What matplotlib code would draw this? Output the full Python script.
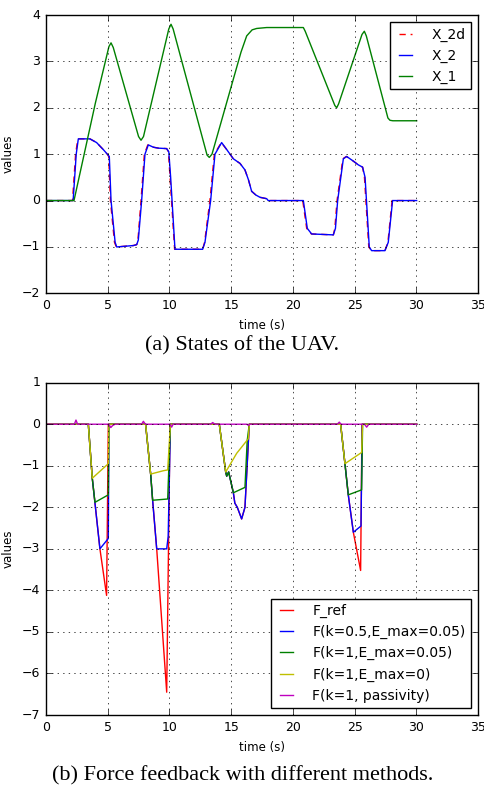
import numpy as np
import matplotlib.pyplot as plt

plt.style.use('classic')
plt.rcParams['figure.facecolor'] = 'white'
plt.rcParams['savefig.facecolor'] = 'white'
plt.rcParams['font.family'] = ['DejaVu Sans']

# ---- (a) states of the UAV ----
t_x1 = [0, 2.27, 4.0, 5.1, 5.27, 5.45, 7.5, 7.7, 7.9, 9.95, 10.13, 10.3, 13.05, 13.23, 13.45,
        15.8, 16.26, 16.7, 17.07, 17.88, 20.85, 21.0, 23.4, 23.55, 23.7, 25.6, 25.79, 25.95, 27.7, 27.87, 28.1, 30.03]
x1 = [0, 0, 2.1, 3.32, 3.4, 3.3, 1.38, 1.3, 1.38, 3.7, 3.8, 3.7, 0.98, 0.93, 1.0,
      3.2, 3.55, 3.68, 3.71, 3.73, 3.73, 3.65, 2.05, 2.0, 2.08, 3.58, 3.65, 3.55, 1.78, 1.73, 1.72, 1.72]

t_x2 = [0, 2.2, 2.45, 2.62, 3.56, 4.1, 4.64, 4.97, 5.13, 5.27, 5.6, 5.73, 7.08, 7.35, 7.48, 7.75,
        8.02, 8.29, 8.7, 9.1, 9.78, 9.95, 10.1, 10.45, 12.69, 12.88, 13.34, 13.69, 14.23, 14.64,
        15.18, 15.72, 16.12, 16.4, 16.66, 17.0, 17.34, 17.88, 18.0, 20.85, 21.17, 21.52, 23.28,
        23.45, 23.63, 24.09, 24.36, 24.9, 25.3, 25.65, 25.85, 26.19, 26.38, 27.46, 27.73, 28.08, 30.03]
x2 = [0, 0, 1.0, 1.33, 1.33, 1.25, 1.1, 1.0, 0.95, 0.0, -0.9, -1.0, -0.97, -0.95, -0.85, 0.0,
      1.0, 1.2, 1.15, 1.13, 1.12, 1.05, 0.5, -1.05, -1.05, -0.9, 0.0, 1.0, 1.25, 1.1,
      0.9, 0.8, 0.66, 0.45, 0.2, 0.12, 0.07, 0.04, 0.0, 0.0, -0.6, -0.72, -0.74,
      -0.6, 0.0, 0.9, 0.95, 0.85, 0.77, 0.72, 0.5, -1.0, -1.08, -1.08, -0.9, 0.0, 0.0]

t_x2d = [0, 2.15, 2.4, 2.58, 3.56, 4.1, 4.64, 4.97, 5.08, 5.22, 5.55, 5.7, 7.08, 7.35, 7.45, 7.7,
         7.97, 8.25, 8.7, 9.1, 9.78, 9.92, 10.05, 10.42, 12.69, 12.85, 13.28, 13.64, 14.2, 14.64,
         15.18, 15.72, 16.12, 16.4, 16.66, 17.0, 17.34, 17.88, 18.0, 20.8, 21.12, 21.5, 23.28,
         23.4, 23.58, 24.05, 24.33, 24.9, 25.3, 25.65, 25.8, 26.15, 26.35, 27.46, 27.7, 28.04, 30.03]
x2d = x2

# ---- (b) force feedback ----
t_fref = [0, 3.43, 3.75, 3.97, 4.37, 4.91, 5.05, 8.07, 8.48, 8.64, 8.97, 9.78, 10.05,
          14.04, 14.56, 14.64, 14.8, 15.18, 15.3, 15.5, 15.85, 16.12, 16.47,
          23.87, 24.22, 24.49, 24.9, 25.49, 25.6, 30.03]
f_ref = [0, 0, -1.3, -1.9, -3.0, -4.12, 0, 0, -1.2, -1.83, -3.0, -6.45, 0,
         0, -1.15, -1.25, -1.15, -1.65, -1.9, -2.0, -2.28, -2.0, 0,
         0, -0.95, -1.7, -2.6, -3.52, 0, 0]

t_f05 = [0, 3.43, 3.75, 3.97, 4.37, 5.05, 5.1, 8.07, 8.48, 8.64, 8.97, 9.78, 9.9, 10.08,
         14.04, 14.56, 14.64, 14.8, 15.18, 15.3, 15.5, 15.85, 16.12, 16.47,
         23.87, 24.22, 24.49, 24.9, 25.52, 25.62, 30.03]
f_05 = [0, 0, -1.3, -1.9, -3.0, -2.75, 0, 0, -1.2, -1.83, -3.0, -3.0, -2.7, 0,
        0, -1.15, -1.25, -1.15, -1.65, -1.9, -2.0, -2.28, -2.0, 0,
        0, -0.95, -1.7, -2.6, -2.45, 0, 0]

t_f1 = [0, 3.43, 3.75, 3.97, 5.05, 5.1, 8.07, 8.48, 8.64, 9.86, 10.08,
        14.04, 14.56, 14.64, 14.8, 15.18, 16.12, 16.3, 16.47,
        23.87, 24.22, 24.49, 25.57, 25.65, 30.03]
f_1 = [0, 0, -1.3, -1.88, -1.7, 0, 0, -1.2, -1.83, -1.8, 0,
       0, -1.15, -1.25, -1.15, -1.65, -1.52, -0.4, 0,
       0, -0.95, -1.7, -1.58, 0, 0]

t_f1e0 = [0, 3.43, 3.75, 5.05, 5.1, 8.07, 8.48, 9.5, 9.86, 10.08,
          14.04, 14.56, 15.45, 16.39, 16.47, 23.87, 24.22, 25.57, 25.65, 30.03]
f_1e0 = [0, 0, -1.3, -0.95, 0, 0, -1.2, -1.12, -1.1, 0,
         0, -1.15, -0.7, -0.35, 0, 0, -0.95, -0.68, 0, 0]

t_fp = [0, 2.3, 2.43, 2.56, 5.1, 5.25, 5.4, 5.6, 7.75, 7.89, 8.05, 10.05, 10.18, 10.3,
        13.35, 13.5, 13.7, 16.3, 16.4, 16.5, 23.6, 23.76, 23.9, 25.8, 25.98, 26.15, 30.03]
f_p = [0, 0, 0.1, 0, 0, -0.08, -0.03, 0, 0, 0.07, 0, 0, -0.07, 0,
       0, 0.04, 0, 0, -0.03, 0, 0, 0.05, 0, 0, -0.07, 0, 0]


fig = plt.figure(figsize=(4.85, 7.9), dpi=100)
ax1 = fig.add_axes([0.0948, 0.6287, 0.8908, 0.3523])
ax2 = fig.add_axes([0.0948, 0.0949, 0.8908, 0.4207])

ax1.plot(t_x2d, x2d, 'r--', dashes=(4.5, 3.5), label='X_2d')
ax1.plot(t_x2, x2, 'b-', label='X_2')
ax1.plot(t_x1, x1, 'g-', label='X_1')
ax1.set_xlim(0, 35)
ax1.set_ylim(-2, 4)
ax1.grid(True)
ax1.set_xlabel('time (s)', fontsize=8.5)
ax1.set_ylabel('values', fontsize=8.5)
ax1.legend(loc='upper right', fontsize=10, handlelength=1.5, handletextpad=1.1,
           borderpad=0.4, labelspacing=0.5)

ax2.plot(t_fref, f_ref, 'r-', label='F_ref')
ax2.plot(t_f05, f_05, 'b-', label='F(k=0.5,E_max=0.05)')
ax2.plot(t_f1, f_1, 'g-', label='F(k=1,E_max=0.05)')
ax2.plot(t_f1e0, f_1e0, 'y-', label='F(k=1,E_max=0)')
ax2.plot(t_fp, f_p, 'm-', label='F(k=1, passivity)')
ax2.set_xlim(0, 35)
ax2.set_ylim(-7, 1)
ax2.grid(True)
ax2.set_xlabel('time (s)', fontsize=8.5)
ax2.set_ylabel('values', fontsize=8.5)
ax2.legend(loc='lower right', fontsize=10, handlelength=1.5, handletextpad=1.1,
           borderpad=0.4, labelspacing=0.5)

for ax in (ax1, ax2):
    ax.tick_params(labelsize=9)

fig.text(0.5, 1 - 346 / 790, '(a) States of the UAV.', ha='center', va='center',
         family='Liberation Serif', fontsize=16)
fig.text(0.5, 1 - 776 / 790, '(b) Force feedback with different methods.', ha='center',
         va='center', family='Liberation Serif', fontsize=16)

fig.savefig('out.png', dpi=100)
